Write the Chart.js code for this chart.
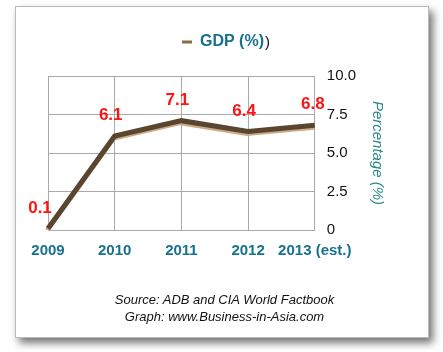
<!DOCTYPE html>
<html><head><meta charset="utf-8">
<script src="https://cdn.jsdelivr.net/npm/chart.js@4/dist/chart.umd.min.js"></script>
<style>
html,body{margin:0;padding:0;background:#fff;width:443px;height:352px;overflow:hidden;font-family:"Liberation Sans",Arial,sans-serif}
#card{position:absolute;left:15px;top:6px;width:412px;height:330px;background:#fff;border:1px solid #bbb;box-shadow:4px 5px 8px rgba(0,0,0,0.55)}
#wrap{position:absolute;left:0;top:0;width:443px;height:352px}
.cap{position:absolute;left:0;width:443px;text-align:center;font-style:italic;font-size:13px;color:#111;margin-left:3px}
</style></head>
<body>
<div id="card"></div>
<div id="wrap"><canvas id="c" width="443" height="352"></canvas></div>
<div class="cap" style="top:292px">Source: ADB and CIA World Factbook</div>
<div class="cap" style="top:309px">Graph: www.Business-in-Asia.com</div>
<script>
const categories = ["2009", "2010", "2011", "2012", "2013 (est.)"];
const gdpValues = [0.1, 6.1, 7.1, 6.4, 6.8];
const valueLabels = ["0.1", "6.1", "7.1", "6.4", "6.8"];
const yTicks = [0, 2.5, 5.0, 7.5, 10.0];
const FONT = '"Liberation Sans", Arial, sans-serif';

const labelPlugin = {
  id: 'vlabels',
  beforeInit(chart) {
    const lg = chart.legend;
    if (lg) { const fit = lg.fit; lg.fit = function () { fit.call(this); this.height += 16; }; }
  },
  beforeDatasetDraw(chart) {
    const ctx = chart.ctx; ctx.save();
    ctx.shadowColor = 'rgba(200,165,125,0.95)'; ctx.shadowOffsetY = 2; ctx.shadowOffsetX = -1;
  },
  afterDatasetDraw(chart) { chart.ctx.restore(); },
  afterDatasetsDraw(chart) {
    const ctx = chart.ctx, meta = chart.getDatasetMeta(0);
    ctx.save();
    ctx.font = 'bold 17px ' + FONT;
    ctx.fillStyle = '#ff1414'; ctx.textAlign = 'center'; ctx.textBaseline = 'bottom';
    meta.data.forEach((p, i) => {
      let dx = i === 0 ? -8 : (i === 4 ? -2 : -4);
      ctx.fillText(valueLabels[i], p.x + dx, p.y - 12);
    });
    ctx.restore();
  },
  afterDraw(chart) {
    const hb = chart.legend && chart.legend.legendHitBoxes && chart.legend.legendHitBoxes[0];
    if (!hb) return;
    const ctx = chart.ctx; ctx.save();
    ctx.font = '15px ' + FONT; ctx.fillStyle = '#111'; ctx.textBaseline = 'middle'; ctx.textAlign = 'left';
    ctx.fillText(')', hb.left + hb.width + 1, hb.top + hb.height / 2 + 1);
    ctx.restore();
  }
};

new Chart(document.getElementById('c'), {
  type: 'line',
  data: { labels: categories, datasets: [{
    label: 'GDP (%)', data: gdpValues, borderColor: '#5a4530', backgroundColor: '#8a6a48',
    borderWidth: 5, pointRadius: 0, tension: 0, fill: false
  }]},
  options: {
    responsive: false, animation: false, devicePixelRatio: 1,
    layout: { padding: { left: 48, right: 45, top: 22, bottom: 80 } },
    plugins: {
      legend: { display: true, position: 'top',
        labels: { usePointStyle: true, pointStyle: 'line', pointStyleWidth: 10, boxWidth: 10, color: '#17718f',
          font: { size: 16, weight: 'bold', family: FONT }, padding: 12,
          generateLabels(chart) {
            const l = Chart.defaults.plugins.legend.labels.generateLabels(chart);
            l.forEach(x => { x.lineWidth = 3; x.strokeStyle = '#8a6a48'; x.fontColor = '#17718f'; });
            return l;
          } } },
      tooltip: { enabled: false }
    },
    scales: {
      x: { offset: false,
        grid: { color: '#aaa', drawTicks: false }, border: { color: '#aaa' },
        ticks: { color: '#17718f', padding: 12, maxRotation: 0, autoSkip: false,
          font: { size: 15, weight: 'bold', family: FONT } } },
      y: { position: 'right', min: 0, max: 10,
        afterBuildTicks(s) { s.ticks = yTicks.map(v => ({ value: v })); },
        grid: { color: '#aaa', drawTicks: false }, border: { color: '#aaa' },
        ticks: { color: '#111', padding: 12,
          font: { size: 15, family: FONT },
          callback: v => v === 0 ? '0' : v.toFixed(1) },
        title: { display: true, text: 'Percentage (%)', color: '#2b8a85', padding: { top: 12, bottom: 0 },
          font: { size: 15, style: 'italic', family: FONT } } }
    }
  },
  plugins: [labelPlugin]
});
</script>
</body></html>
